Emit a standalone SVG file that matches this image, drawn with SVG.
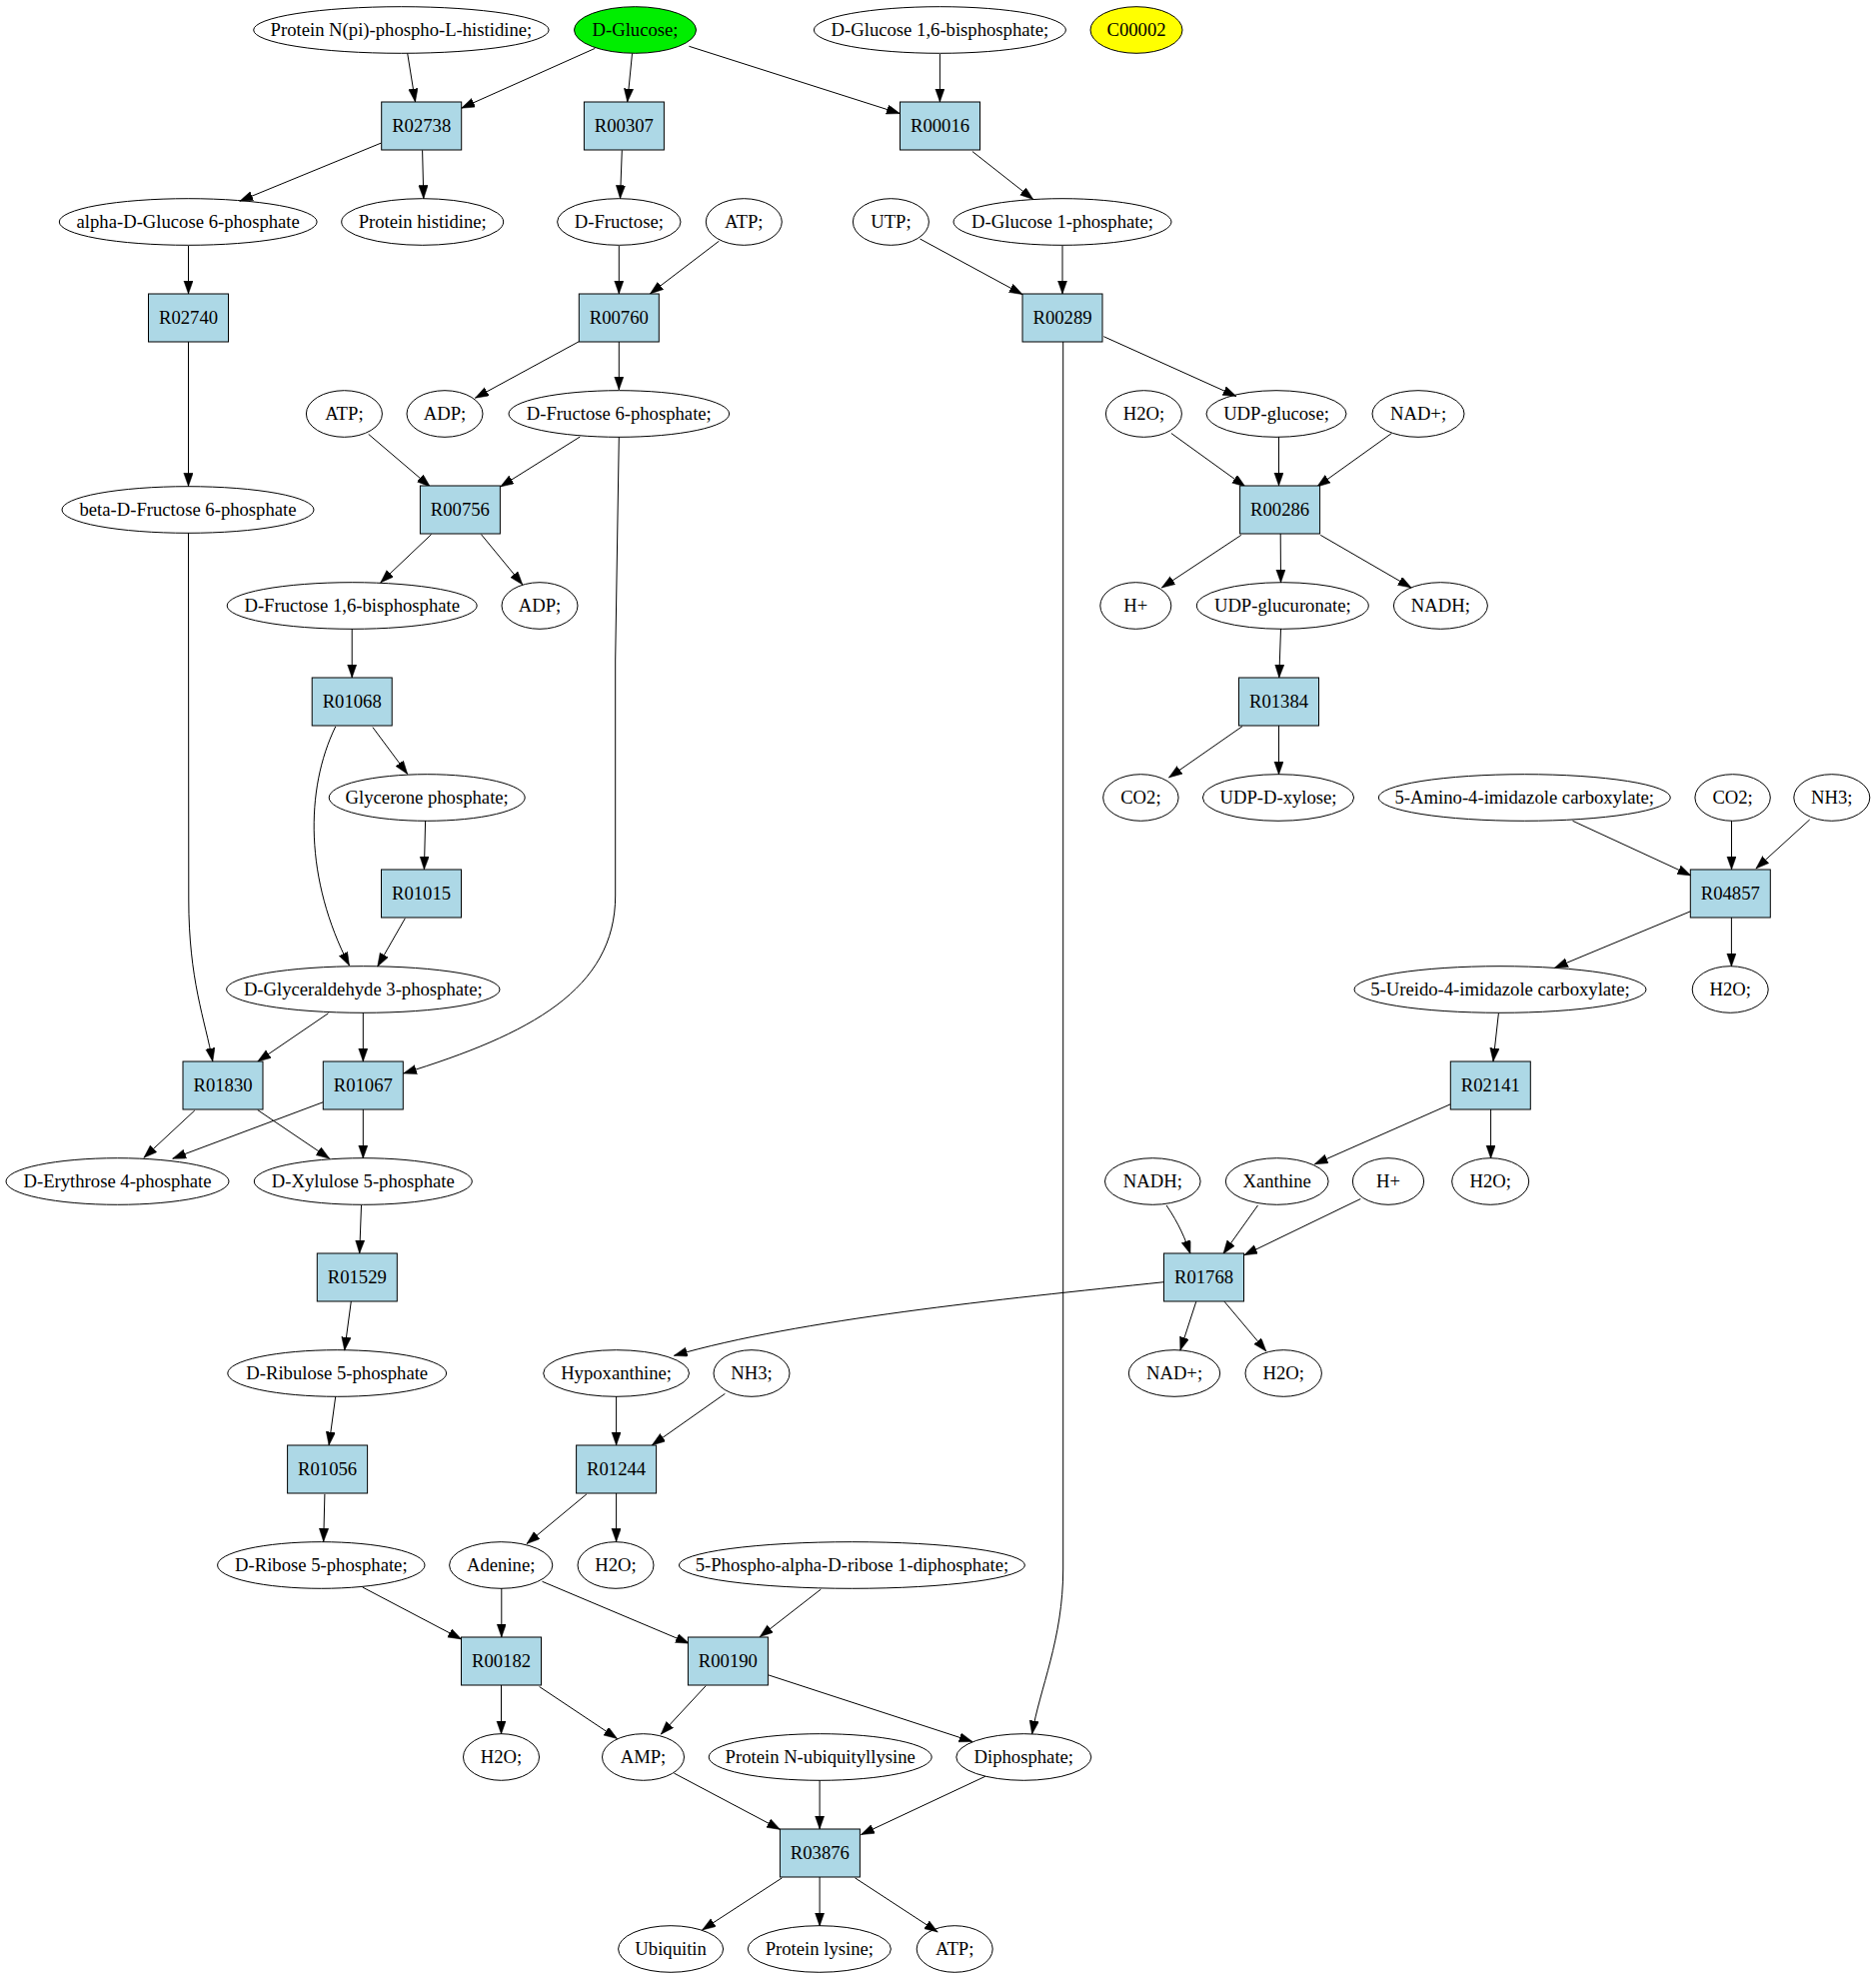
<svg xmlns="http://www.w3.org/2000/svg" width="1877" height="1979" viewBox="0 0 1877 1979">
<style>
.n ellipse{fill:none;stroke:#000;stroke-width:1}
.r rect{fill:#add8e6;stroke:#000;stroke-width:1}
text{font-family:"Liberation Serif","Times New Roman",serif;font-size:18.67px;text-anchor:middle;fill:#000}
#edges path{fill:none;stroke:#000;stroke-width:1;marker-end:url(#a)}
</style>
<defs>
<marker id="a" markerWidth="14" markerHeight="10" refX="13.3" refY="4.67" orient="auto" markerUnits="userSpaceOnUse"><path d="M0,0 L13.3,4.67 L0,9.33 Z" fill="#000" stroke="#000" stroke-width="0.5"/></marker>
</defs>
<rect width="1877" height="1979" fill="#fff"/>
<g id="edges">
<path d="M407.7,53.4 L415.5,102"/>
<path d="M595.3,48.4 L461.6,108.2"/>
<path d="M632.5,53.5 L627.7,102"/>
<path d="M689.4,46.3 L900.4,113.6"/>
<path d="M940.4,54 L940.4,102"/>
<path d="M381.3,143.1 L239.8,201.2"/>
<path d="M422.6,150.3 L423.8,198.7"/>
<path d="M622.3,150.3 L620.5,198.7"/>
<path d="M972.9,151.5 L1033.8,199.5"/>
<path d="M188.5,246 L188.5,294"/>
<path d="M619.3,246 L619.3,294"/>
<path d="M719.4,241.2 L650.4,293.9"/>
<path d="M920.5,239 L1023,294.6"/>
<path d="M1063,246 L1063,294"/>
<path d="M188.5,342 L188.5,486.5"/>
<path d="M579.1,341.8 L475.4,398.2"/>
<path d="M619.3,342 L619.3,390"/>
<path d="M1104.3,336.7 L1237,396.5"/>
<path d="M1063.7,342 L1063.7,1570 C1063.7,1640 1040,1690 1032.6,1735"/>
<path d="M368.7,434.4 L430.4,487"/>
<path d="M580.3,437 L500.6,487"/>
<path d="M619.3,437 L615.7,660 L615.7,896 C615.7,990 530,1035 403.5,1074"/>
<path d="M1171.9,433.5 L1246,487"/>
<path d="M1279.5,437 L1279.5,486"/>
<path d="M1392.4,433.5 L1317.7,487"/>
<path d="M188.5,533 L188.8,900 C188.8,980 205,1020 212.8,1062"/>
<path d="M431.6,534.6 L380.7,582.9"/>
<path d="M481.4,534.6 L522.8,584.9"/>
<path d="M1241.8,535.4 L1162.3,588"/>
<path d="M1281.2,534 L1281.5,583"/>
<path d="M1321.3,535.4 L1412.1,588"/>
<path d="M352.2,629 L352.2,678"/>
<path d="M1281.5,629 L1279.8,678"/>
<path d="M372.9,727.6 L407.7,774.4"/>
<path d="M335.7,727 C305,790 305,880 349.5,966"/>
<path d="M425.6,821 L424.4,870"/>
<path d="M405.3,918.8 L377.7,967"/>
<path d="M1243,726.7 L1169.5,777.9"/>
<path d="M1279.5,726 L1279.5,775"/>
<path d="M1573.5,821.3 L1691.8,875.9"/>
<path d="M1732.5,821 L1732.5,870"/>
<path d="M1810.7,820 L1756.9,869"/>
<path d="M1691.2,911.9 L1555.5,968.3"/>
<path d="M1732.4,918 L1732.4,967"/>
<path d="M328.5,1013.8 L257.8,1062"/>
<path d="M363.3,1013 L363.3,1062"/>
<path d="M1499.4,1013.8 L1494,1062"/>
<path d="M194.8,1111 L143.9,1158.3"/>
<path d="M257.8,1110.6 L329.7,1159.2"/>
<path d="M323.1,1102.8 L172.7,1159.2"/>
<path d="M363.3,1110 L363.3,1159"/>
<path d="M1451,1104.9 L1315.3,1164.8"/>
<path d="M1491.6,1110 L1491.6,1159"/>
<path d="M361.5,1206 L359.7,1254"/>
<path d="M1167.1,1206 C1180,1225 1186,1240 1191,1254.5"/>
<path d="M1258.5,1206 L1223.9,1254.5"/>
<path d="M1361.3,1199.5 L1244.8,1255.8"/>
<path d="M351.3,1302 L344.7,1351.1"/>
<path d="M1164.7,1282.7 C1000,1300 800,1320 674.4,1356.3"/>
<path d="M1196.8,1302.2 L1180.9,1351.1"/>
<path d="M1225,1302.2 L1266.9,1352"/>
<path d="M335.7,1397.4 L329.1,1445.9"/>
<path d="M616.6,1397 L616.6,1446"/>
<path d="M725.4,1394.4 L652.3,1445.9"/>
<path d="M324.9,1494.9 L323.7,1542.5"/>
<path d="M586.9,1494.9 L527,1544.6"/>
<path d="M616.6,1494 L616.6,1542.5"/>
<path d="M362.7,1588 L461.6,1640"/>
<path d="M501.8,1589 L501.8,1638"/>
<path d="M542.5,1582.3 L689.4,1644.2"/>
<path d="M821.3,1590.1 L760.2,1637.7"/>
<path d="M501.5,1686 L501.5,1735"/>
<path d="M539.6,1687.5 L617.5,1739.5"/>
<path d="M706.2,1686.7 L661.2,1735.2"/>
<path d="M768.6,1675.8 L972.9,1742.5"/>
<path d="M674.4,1774.1 L780.6,1830.4"/>
<path d="M820.1,1781 L820.1,1830"/>
<path d="M986,1777.2 L861.5,1835.6"/>
<path d="M782.4,1878.9 L702.6,1930.9"/>
<path d="M820.1,1878 L820.1,1927"/>
<path d="M855.5,1878.9 L938.2,1933"/>
</g>
<g id="n_pnph" class="n"><ellipse cx="401.4" cy="30" rx="147.7" ry="23.3"/><text x="401.4" y="36">Protein N(pi)-phospho-L-histidine;</text></g>
<g id="n_glucose" class="n"><ellipse cx="635.5" cy="30" rx="61" ry="23.3" style="fill:#00ee00"/><text x="635.5" y="36">D-Glucose;</text></g>
<g id="n_g16bp" class="n"><ellipse cx="940.4" cy="30" rx="126" ry="23.3"/><text x="940.4" y="36">D-Glucose 1,6-bisphosphate;</text></g>
<g id="n_c00002" class="n"><ellipse cx="1137" cy="30" rx="46" ry="23.3" style="fill:#ffff00"/><text x="1137" y="36">C00002</text></g>
<g id="r_R02738" class="r"><rect x="381.7" y="102" width="80" height="48"/><text x="421.7" y="132">R02738</text></g>
<g id="r_R00307" class="r"><rect x="584.4" y="102" width="80" height="48"/><text x="624.4" y="132">R00307</text></g>
<g id="r_R00016" class="r"><rect x="900.5" y="102" width="80" height="48"/><text x="940.5" y="132">R00016</text></g>
<g id="n_ag6p" class="n"><ellipse cx="188.2" cy="222" rx="128.9" ry="23.3"/><text x="188.2" y="228">alpha-D-Glucose 6-phosphate</text></g>
<g id="n_phis" class="n"><ellipse cx="422.7" cy="222" rx="81" ry="23.3"/><text x="422.7" y="228">Protein histidine;</text></g>
<g id="n_fru" class="n"><ellipse cx="619.3" cy="222" rx="61.7" ry="23.3"/><text x="619.3" y="228">D-Fructose;</text></g>
<g id="n_atp1" class="n"><ellipse cx="744.3" cy="222" rx="38" ry="23.3"/><text x="744.3" y="228">ATP;</text></g>
<g id="n_utp" class="n"><ellipse cx="891.4" cy="222" rx="38" ry="23.3"/><text x="891.4" y="228">UTP;</text></g>
<g id="n_g1p" class="n"><ellipse cx="1063" cy="222" rx="109" ry="23.3"/><text x="1063" y="228">D-Glucose 1-phosphate;</text></g>
<g id="r_R02740" class="r"><rect x="148.5" y="294" width="80" height="48"/><text x="188.5" y="324">R02740</text></g>
<g id="r_R00760" class="r"><rect x="579.3" y="294" width="80" height="48"/><text x="619.3" y="324">R00760</text></g>
<g id="r_R00289" class="r"><rect x="1023" y="294" width="80" height="48"/><text x="1063" y="324">R00289</text></g>
<g id="n_atp2" class="n"><ellipse cx="344.4" cy="414" rx="38" ry="23.3"/><text x="344.4" y="420">ATP;</text></g>
<g id="n_adp1" class="n"><ellipse cx="445" cy="414" rx="38" ry="23.3"/><text x="445" y="420">ADP;</text></g>
<g id="n_f6p" class="n"><ellipse cx="619.3" cy="414" rx="110.3" ry="23.3"/><text x="619.3" y="420">D-Fructose 6-phosphate;</text></g>
<g id="n_h2o1" class="n"><ellipse cx="1144.4" cy="414" rx="38" ry="23.3"/><text x="1144.4" y="420">H2O;</text></g>
<g id="n_udpg" class="n"><ellipse cx="1277" cy="414" rx="70" ry="23.3"/><text x="1277" y="420">UDP-glucose;</text></g>
<g id="n_nad1" class="n"><ellipse cx="1419" cy="414" rx="46" ry="23.3"/><text x="1419" y="420">NAD+;</text></g>
<g id="n_bf6p" class="n"><ellipse cx="188" cy="510" rx="126" ry="23.3"/><text x="188" y="516">beta-D-Fructose 6-phosphate</text></g>
<g id="r_R00756" class="r"><rect x="420.4" y="486" width="80" height="48"/><text x="460.4" y="516">R00756</text></g>
<g id="r_R00286" class="r"><rect x="1240.6" y="486" width="80" height="48"/><text x="1280.6" y="516">R00286</text></g>
<g id="n_fbp" class="n"><ellipse cx="352.2" cy="606" rx="125" ry="23.3"/><text x="352.2" y="612">D-Fructose 1,6-bisphosphate</text></g>
<g id="n_adp2" class="n"><ellipse cx="540" cy="606" rx="38" ry="23.3"/><text x="540" y="612">ADP;</text></g>
<g id="n_h1" class="n"><ellipse cx="1136.3" cy="606" rx="35.5" ry="23.3"/><text x="1136.3" y="612">H+</text></g>
<g id="n_udpgluc" class="n"><ellipse cx="1283.3" cy="606" rx="86" ry="23.3"/><text x="1283.3" y="612">UDP-glucuronate;</text></g>
<g id="n_nadh1" class="n"><ellipse cx="1441.4" cy="606" rx="47" ry="23.3"/><text x="1441.4" y="612">NADH;</text></g>
<g id="r_R01068" class="r"><rect x="312.2" y="678" width="80" height="48"/><text x="352.2" y="708">R01068</text></g>
<g id="r_R01384" class="r"><rect x="1239.5" y="678" width="80" height="48"/><text x="1279.5" y="708">R01384</text></g>
<g id="n_dhap" class="n"><ellipse cx="427.2" cy="798" rx="98" ry="23.3"/><text x="427.2" y="804">Glycerone phosphate;</text></g>
<g id="n_co2a" class="n"><ellipse cx="1141.4" cy="798" rx="37.7" ry="23.3"/><text x="1141.4" y="804">CO2;</text></g>
<g id="n_udpx" class="n"><ellipse cx="1279" cy="798" rx="75.6" ry="23.3"/><text x="1279" y="804">UDP-D-xylose;</text></g>
<g id="n_aic" class="n"><ellipse cx="1525.3" cy="798" rx="146" ry="23.3"/><text x="1525.3" y="804">5-Amino-4-imidazole carboxylate;</text></g>
<g id="n_co2b" class="n"><ellipse cx="1733.6" cy="798" rx="37.7" ry="23.3"/><text x="1733.6" y="804">CO2;</text></g>
<g id="n_nh3a" class="n"><ellipse cx="1832.8" cy="798" rx="38" ry="23.3"/><text x="1832.8" y="804">NH3;</text></g>
<g id="r_R01015" class="r"><rect x="381.5" y="870" width="80" height="48"/><text x="421.5" y="900">R01015</text></g>
<g id="r_R04857" class="r"><rect x="1691.3" y="870" width="80" height="48"/><text x="1731.3" y="900">R04857</text></g>
<g id="n_gap" class="n"><ellipse cx="363.3" cy="990" rx="136.7" ry="23.3"/><text x="363.3" y="996">D-Glyceraldehyde 3-phosphate;</text></g>
<g id="n_uic" class="n"><ellipse cx="1501" cy="990" rx="146" ry="23.3"/><text x="1501" y="996">5-Ureido-4-imidazole carboxylate;</text></g>
<g id="n_h2o2" class="n"><ellipse cx="1731.2" cy="990" rx="38" ry="23.3"/><text x="1731.2" y="996">H2O;</text></g>
<g id="r_R01830" class="r"><rect x="183" y="1062" width="80" height="48"/><text x="223" y="1092">R01830</text></g>
<g id="r_R01067" class="r"><rect x="323.3" y="1062" width="80" height="48"/><text x="363.3" y="1092">R01067</text></g>
<g id="r_R02141" class="r"><rect x="1451.3" y="1062" width="80" height="48"/><text x="1491.3" y="1092">R02141</text></g>
<g id="n_e4p" class="n"><ellipse cx="117.5" cy="1182" rx="111.5" ry="23.3"/><text x="117.5" y="1188">D-Erythrose 4-phosphate</text></g>
<g id="n_x5p" class="n"><ellipse cx="363.3" cy="1182" rx="109" ry="23.3"/><text x="363.3" y="1188">D-Xylulose 5-phosphate</text></g>
<g id="n_nadh2" class="n"><ellipse cx="1153.3" cy="1182" rx="47.8" ry="23.3"/><text x="1153.3" y="1188">NADH;</text></g>
<g id="n_xan" class="n"><ellipse cx="1277.7" cy="1182" rx="51.4" ry="23.3"/><text x="1277.7" y="1188">Xanthine</text></g>
<g id="n_h2" class="n"><ellipse cx="1389" cy="1182" rx="35.6" ry="23.3"/><text x="1389" y="1188">H+</text></g>
<g id="n_h2o3" class="n"><ellipse cx="1491.2" cy="1182" rx="38.5" ry="23.3"/><text x="1491.2" y="1188">H2O;</text></g>
<g id="r_R01529" class="r"><rect x="317.3" y="1254" width="80" height="48"/><text x="357.3" y="1284">R01529</text></g>
<g id="r_R01768" class="r"><rect x="1164.5" y="1254" width="80" height="48"/><text x="1204.5" y="1284">R01768</text></g>
<g id="n_ru5p" class="n"><ellipse cx="337.2" cy="1374" rx="109.4" ry="23.3"/><text x="337.2" y="1380">D-Ribulose 5-phosphate</text></g>
<g id="n_hyp" class="n"><ellipse cx="616.6" cy="1374" rx="72.9" ry="23.3"/><text x="616.6" y="1380">Hypoxanthine;</text></g>
<g id="n_nh3b" class="n"><ellipse cx="752" cy="1374" rx="38" ry="23.3"/><text x="752" y="1380">NH3;</text></g>
<g id="n_nad2" class="n"><ellipse cx="1175" cy="1374" rx="45.7" ry="23.3"/><text x="1175" y="1380">NAD+;</text></g>
<g id="n_h2o4" class="n"><ellipse cx="1284.2" cy="1374" rx="38.2" ry="23.3"/><text x="1284.2" y="1380">H2O;</text></g>
<g id="r_R01056" class="r"><rect x="287.6" y="1446" width="80" height="48"/><text x="327.6" y="1476">R01056</text></g>
<g id="r_R01244" class="r"><rect x="576.6" y="1446" width="80" height="48"/><text x="616.6" y="1476">R01244</text></g>
<g id="n_r5p" class="n"><ellipse cx="321.3" cy="1566" rx="103.7" ry="23.3"/><text x="321.3" y="1572">D-Ribose 5-phosphate;</text></g>
<g id="n_ade" class="n"><ellipse cx="501.2" cy="1566" rx="51.6" ry="23.3"/><text x="501.2" y="1572">Adenine;</text></g>
<g id="n_h2o5" class="n"><ellipse cx="616" cy="1566" rx="38" ry="23.3"/><text x="616" y="1572">H2O;</text></g>
<g id="n_prpp" class="n"><ellipse cx="852.4" cy="1566" rx="173" ry="23.3"/><text x="852.4" y="1572">5-Phospho-alpha-D-ribose 1-diphosphate;</text></g>
<g id="r_R00182" class="r"><rect x="461.5" y="1638" width="80" height="48"/><text x="501.5" y="1668">R00182</text></g>
<g id="r_R00190" class="r"><rect x="688.4" y="1638" width="80" height="48"/><text x="728.4" y="1668">R00190</text></g>
<g id="n_h2o6" class="n"><ellipse cx="501.5" cy="1758" rx="38" ry="23.3"/><text x="501.5" y="1764">H2O;</text></g>
<g id="n_amp" class="n"><ellipse cx="643.5" cy="1758" rx="41" ry="23.3"/><text x="643.5" y="1764">AMP;</text></g>
<g id="n_pnub" class="n"><ellipse cx="820.7" cy="1758" rx="111.5" ry="23.3"/><text x="820.7" y="1764">Protein N-ubiquityllysine</text></g>
<g id="n_ppi" class="n"><ellipse cx="1024.3" cy="1758" rx="67.5" ry="23.3"/><text x="1024.3" y="1764">Diphosphate;</text></g>
<g id="r_R03876" class="r"><rect x="780.4" y="1830" width="80" height="48"/><text x="820.4" y="1860">R03876</text></g>
<g id="n_ubq" class="n"><ellipse cx="671.1" cy="1950" rx="52.5" ry="23.3"/><text x="671.1" y="1956">Ubiquitin</text></g>
<g id="n_plys" class="n"><ellipse cx="819.8" cy="1950" rx="71.6" ry="23.3"/><text x="819.8" y="1956">Protein lysine;</text></g>
<g id="n_atp3" class="n"><ellipse cx="955.2" cy="1950" rx="38" ry="23.3"/><text x="955.2" y="1956">ATP;</text></g>
</svg>
